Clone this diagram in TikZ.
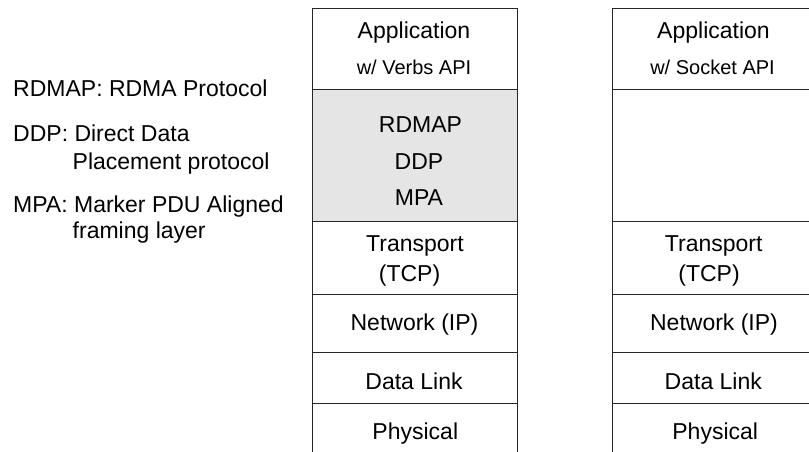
\documentclass[tikz,border=0pt]{standalone}
\usepackage{fontspec}
\setmainfont{Liberation Sans}
\begin{document}
\begin{tikzpicture}[x=1pt,y=-1pt,
  layer/.style={draw=black!85, line width=0.9pt, minimum width=204.6pt,
    inner sep=0pt, outer sep=0pt, anchor=north west},
  openlayer/.style={inner sep=0pt, outer sep=0pt, minimum width=204.6pt,
    anchor=north west},
  big/.style={font=\fontsize{23}{27}\selectfont, anchor=base, inner sep=0pt},
  small/.style={font=\fontsize{20}{24}\selectfont, anchor=base, inner sep=0pt},
  legend/.style={font=\fontsize{23}{27}\selectfont, anchor=base west, inner sep=0pt}]
\useasboundingbox (0,0) rectangle (809,452);
\clip (0,0) rectangle (809,452);

% iWARP stack
\node[layer, minimum height=80.7pt] (appL) at (312.7,8.3) {};
\node[layer, minimum height=132pt, fill=black!10] (rdmaL) at (312.7,89) {};
\node[layer, minimum height=73pt] (tcpL) at (312.7,221) {};
\node[layer, minimum height=58.7pt] (ipL) at (312.7,294) {};
\node[layer, minimum height=50.6pt] (dlL) at (312.7,352.7) {};
\node[openlayer, minimum height=60pt] (phyL) at (312.7,403.3) {};
\draw[black!85, line width=0.9pt] (phyL.north west) -- (phyL.south west)
  (phyL.north east) -- (phyL.south east);

% sockets stack
\node[layer, minimum height=80.7pt] (appR) at (612.7,8.3) {};
\node[layer, minimum height=132pt] (gapR) at (612.7,89) {};
\node[layer, minimum height=73pt] (tcpR) at (612.7,221) {};
\node[layer, minimum height=58.7pt] (ipR) at (612.7,294) {};
\node[layer, minimum height=50.6pt] (dlR) at (612.7,352.7) {};
\node[openlayer, minimum height=60pt] (phyR) at (612.7,403.3) {};
\draw[black!85, line width=0.9pt] (phyR.north west) -- (phyR.south west)
  (phyR.north east) -- (phyR.south east);

% layer names, iWARP stack
\node[big] (tAppL) at (414,39) {Application};
\node[small] (tApiL) at (414,75) {w/ Verbs API};
\node[big] (tRdmap) at (420.5,132.5) {RDMAP};
\node[big] (tDdp) at (419,169) {DDP};
\node[big] (tMpa) at (419,205.5) {MPA};
\node[big] (tTcpL) at (415,251.3) {Transport};
\node[big] (tTcpL2) at (409.5,281) {(TCP)};
\node[big] (tIpL) at (414.5,330) {Network (IP)};
\node[big] (tDlL) at (414,389.5) {Data Link};
\node[big] (tPhyL) at (415.3,439.5) {Physical};

% layer names, sockets stack
\node[big] (tAppR) at (713.5,39) {Application};
\node[small] (tApiR) at (712.5,75) {w/ Socket API};
\node[big] (tTcpR) at (713.7,251.3) {Transport};
\node[big] (tTcpR2) at (709,281) {(TCP)};
\node[big] (tIpR) at (714,330) {Network (IP)};
\node[big] (tDlR) at (713.3,389.5) {Data Link};
\node[big] (tPhyR) at (715.2,439.5) {Physical};

% legend
\node[legend] (gRdmap) at (13,96.7) {RDMAP: RDMA Protocol};
\node[legend] (gDdp) at (13,141.7) {DDP: Direct Data};
\node[legend] (gDdp2) at (72.5,169) {Placement protocol};
\node[legend] (gMpa) at (13,212.3) {MPA: Marker PDU Aligned};
\node[legend] (gMpa2) at (72.5,238.3) {framing layer};
\end{tikzpicture}
\end{document}
